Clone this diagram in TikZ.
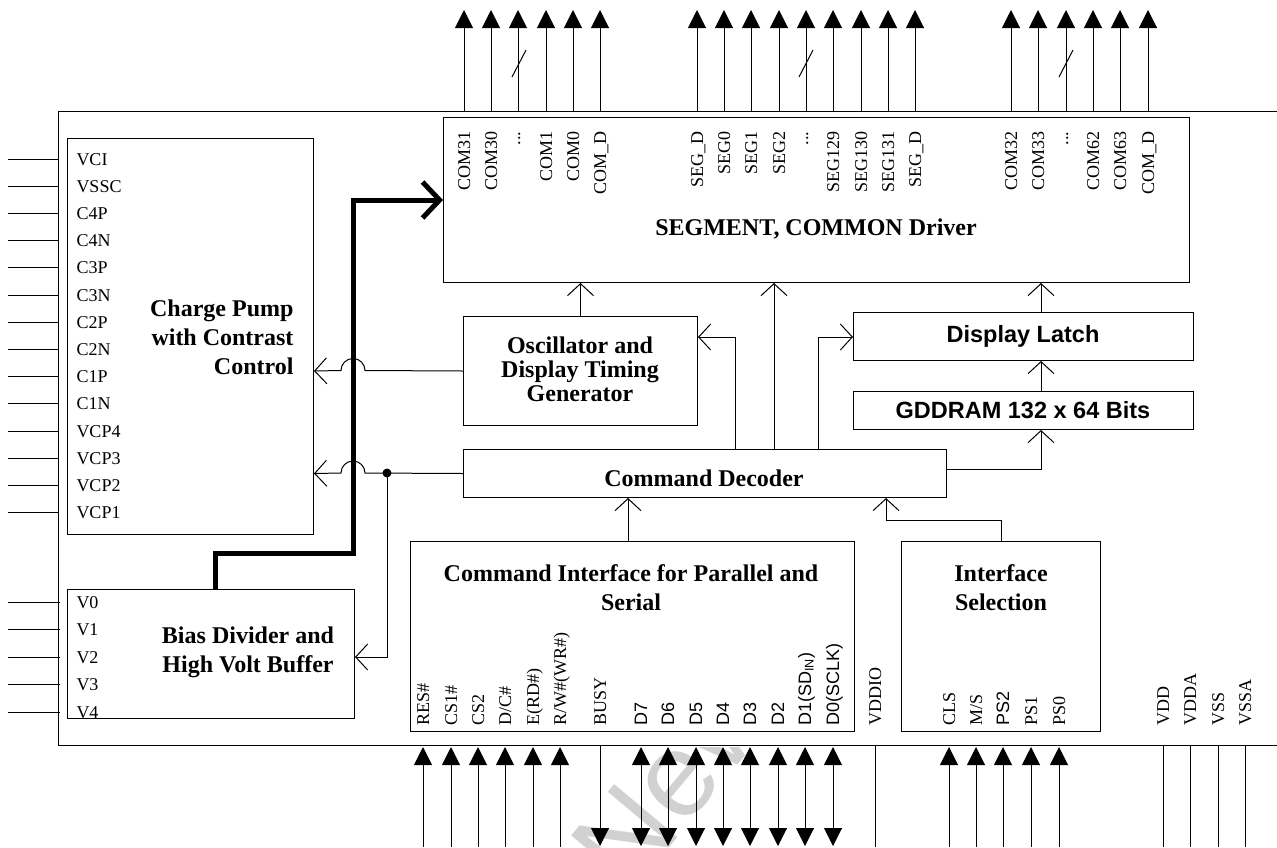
\documentclass[tikz,border=0pt]{standalone}
\usepackage{fontspec}
\setmainfont{Liberation Serif}
\setsansfont{Liberation Sans}
\usetikzlibrary{arrows.meta,calc}
\begin{document}
\begin{tikzpicture}[x=1pt,y=-1pt,line width=1pt,
  box/.style={draw,line width=1pt,inner sep=0pt,anchor=north west},
  lbl/.style={font=\fontsize{18}{18}\selectfont,inner sep=0pt,text height=12pt,text depth=0pt},
  slbl/.style={lbl,font=\sffamily\fontsize{18}{18}\selectfont},
  ttl/.style={font=\bfseries\fontsize{24}{24}\selectfont,align=center,inner sep=0pt},
  sttl/.style={font=\sffamily\bfseries\fontsize{23.5}{24}\selectfont,inner sep=0pt},
  oa/.style={-{Straight Barb[length=12pt,width=26pt]}},
  fa/.style={-{Triangle[length=18pt,width=18pt]}},
  ra/.style={{Triangle[length=18pt,width=18pt]}-},
  ba/.style={{Triangle[length=18pt,width=18pt]}-{Triangle[length=18pt,width=18pt]}},
  bus/.style={line width=5pt,line join=miter,-{Straight Barb[length=17pt,width=36pt]}}]
\useasboundingbox (0,0) rectangle (1277,847);

% watermark
\begin{scope}
\clip (480,747) rectangle (900,847);
\node[text=black!18,font=\sffamily\fontsize{120}{120}\selectfont,rotate=50,inner sep=0pt] (wm) at (674,778) {New};
\end{scope}

% chip outline
\draw (1277,111) -- (58,111) -- (58,745) -- (1277,745);

% boxes
\node[box,minimum width=746pt,minimum height=165pt] (seg) at (443,117) {};
\node[box,minimum width=246pt,minimum height=396pt] (cp) at (67,138) {};
\node[box,minimum width=287pt,minimum height=129pt] (bias) at (67,589) {};
\node[box,minimum width=234pt,minimum height=109pt] (osc) at (463,316) {};
\node[box,minimum width=340pt,minimum height=48pt] (latch) at (853,312) {};
\node[box,minimum width=340pt,minimum height=38pt] (gdd) at (853,391) {};
\node[box,minimum width=483pt,minimum height=48pt] (dec) at (463,449) {};
\node[box,minimum width=444pt,minimum height=190pt] (cif) at (410,541) {};
\node[box,minimum width=199pt,minimum height=190pt] (isel) at (901,541) {};

% titles
\node[ttl] (segt) at (816,229) {SEGMENT, COMMON Driver};
\node[ttl,align=right,anchor=east,font=\bfseries\fontsize{24}{29}\selectfont] (cpt) at (294,337) {Charge Pump\\with Contrast\\Control};
\node[ttl,font=\bfseries\fontsize{24}{29}\selectfont] (biast) at (248,652) {Bias Divider and\\High Volt Buffer};
\node[ttl] (osct) at (580,369) {Oscillator and\\Display Timing\\Generator};
\node[ttl] (dect) at (704,478) {Command Decoder};
\node[ttl,font=\bfseries\fontsize{24}{29}\selectfont] (cift) at (631,588) {Command Interface for Parallel and\\Serial};
\node[ttl,font=\bfseries\fontsize{24}{29}\selectfont] (iselt) at (1001,588) {Interface\\Selection};
\node[sttl] (latcht) at (1023,336) {Display Latch};
\node[sttl] (gddt) at (1023,410) {GDDRAM 132 x 64 Bits};

% left pins
\foreach \n [count=\i] in {VCI,VSSC,C4P,C4N,C3P,C3N,C2P,C2N,C1P,C1N,VCP4,VCP3,VCP2,VCP1}{
  \pgfmathsetmacro{\yy}{159+(\i-1)*27.2}
  \coordinate (lp\i) at (8,\yy);
  \draw (lp\i) -- (58,\yy);
  \node[lbl,anchor=west] (ll\i) at (76,\yy) {\n};
}
\foreach \n [count=\i] in {V0,V1,V2,V3,V4}{
  \pgfmathsetmacro{\yy}{602+(\i-1)*27.5}
  \coordinate (vp\i) at (8,\yy);
  \draw (vp\i) -- (60,\yy);
  \node[lbl,anchor=west] (vl\i) at (76,\yy) {\n};
}

% top pins
\foreach \x in {464,491,518,546,573,600,697,724,751,779,806,833,861,888,915,1011,1038,1066,1093,1120,1148}{
  \coordinate (tp\x) at (\x,10);
  \draw[fa] (\x,111) -- (tp\x);
}
\draw (512,77) -- (526,50);
\draw (799,77) -- (813,50);
\draw (1059,77) -- (1073,50);
\foreach \x/\t in {464/COM31,491/COM30,546/COM1,573/COM0,600/COM\_D,697/SEG\_D,724/SEG0,751/SEG1,779/SEG2,833/SEG129,861/SEG130,888/SEG131,915/SEG\_D,1011/COM32,1038/COM33,1093/COM62,1120/COM63,1148/COM\_D}{
  \node[lbl,rotate=90,anchor=east] (tl\x) at (\x,131) {\t};
}
\foreach \x in {518,806,1066}{
  \node[lbl,rotate=90,anchor=east] (td\x) at (\x-4,131) {...};
}

% bottom pins
\foreach \x in {423,451,478,505,533,560,949,976,1003,1031,1059}{
  \coordinate (bp\x) at (\x,847);
  \draw[ra] (\x,747) -- (bp\x);
}
\coordinate (bp600) at (600,846);
\draw[fa] (600,745) -- (bp600);
\foreach \x in {641,668,696,723,750,778,805,833}{
  \coordinate (bp\x) at (\x,846);
  \draw[ba] (\x,747) -- (bp\x);
}
\foreach \x in {875,1163,1190,1218,1245}{
  \coordinate (bp\x) at (\x,847);
  \draw (\x,745) -- (bp\x);
}
\foreach \x/\t in {423/RES\#,451/CS1\#,478/CS2,505/{D/C\#},533/E(RD\#),560/{R/W\#(WR\#)},600/BUSY,875/VDDIO,949/CLS,976/{M/S},1031/PS1,1059/PS0,1163/VDD,1190/VDDA,1218/VSS,1245/VSSA}{
  \node[lbl,rotate=90,anchor=west] (bl\x) at (\x,726) {\t};
}
\foreach \x/\t in {641/D7,668/D6,696/D5,723/D4,750/D3,778/D2,805/{D1(SD\textsubscript{IN})},833/{D0(SCLK)},1003/PS2}{
  \node[slbl,rotate=90,anchor=west] (bl\x) at (\x,726) {\t};
}

% internal connectors
\coordinate (ka) at (774,0);
\coordinate (k1) at (735,337);
\coordinate (k2) at (818,337);
\coordinate (k3) at (1041,0);
\coordinate (k4) at (1041,469);
\coordinate (k5) at (628,0);
\coordinate (k6) at (886,520);
\coordinate (dot) at (387,473);
\coordinate (k7) at (387,657);
\coordinate (k8) at (215,553);
\coordinate (k9) at (353,553);
\coordinate (k10) at (353,200);

\draw[oa] (osc.north) -- (osc.north |- seg.south);
\draw[oa] (dec.north -| ka) -- (seg.south -| ka);
\draw[oa] (dec.north -| k1) -- (k1) -- (osc.east |- k1);
\draw[oa] (dec.north -| k2) -- (k2) -- (latch.west |- k2);
\draw[oa] (latch.north -| k3) -- (seg.south -| k3);
\draw[oa] (gdd.north -| k3) -- (latch.south -| k3);
\draw[oa] (dec.east |- k4) -- (k4) -- (gdd.south -| k4);
\draw[oa] (cif.north -| k5) -- (dec.south -| k5);
\draw[oa] (isel.north) |- (k6) -- (dec.south -| k6);
\draw[oa] (osc.west) -- (365,370.5) arc[start angle=0,end angle=180,radius=12pt] -- (cp.east |- osc.west);
\draw[oa] (dec.west) -- (365,473) arc[start angle=0,end angle=180,radius=12pt] -- (cp.east |- dec.west);
\fill (dot) circle (4.5pt);
\draw[oa] (dot) -- (k7) -- (bias.east |- k7);
\draw[bus] (bias.north -| k8) -- (k8) -- (k9) -- (k10) -- (seg.west |- k10);
\end{tikzpicture}
\end{document}
